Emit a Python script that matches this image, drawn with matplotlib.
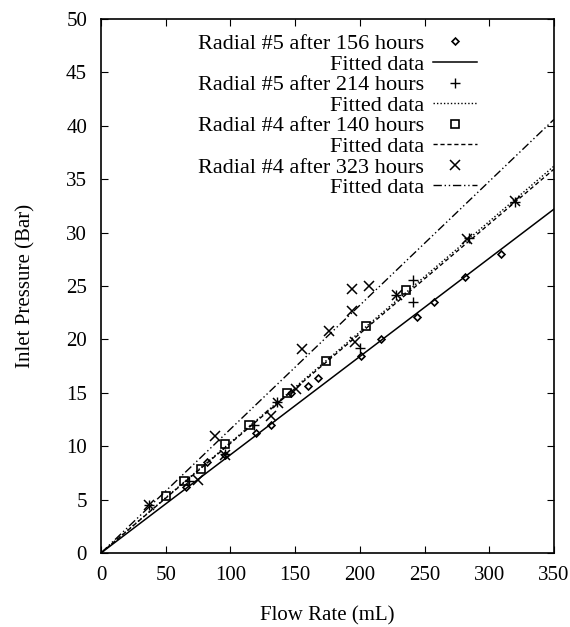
import matplotlib
matplotlib.use("Agg")
import matplotlib.pyplot as plt
import numpy as np

plt.rcParams['font.family'] = ['Liberation Serif', 'DejaVu Serif']

# Radial #5 after 156 hours (diamonds)
r5_156_x = [66, 82, 96, 120, 131, 147, 160, 168, 201, 216, 244, 257, 281, 309]
r5_156_y = [6.2, 8.5, 9.2, 11.2, 12.0, 15.0, 15.6, 16.4, 18.4, 20.0, 22.1, 23.5, 25.8, 28.0]
r5_156_slope = 0.0920

# Radial #5 after 214 hours (plus)
r5_214_x = [37, 68, 96, 118, 136, 200, 228, 241, 241, 284, 320]
r5_214_y = [4.5, 6.7, 9.3, 12.0, 14.1, 19.2, 24.2, 23.5, 25.6, 29.5, 32.9]
r5_214_slope = 0.1035

# Radial #4 after 140 hours (squares)
r4_140_x = [50, 64, 77, 96, 114, 144, 174, 205, 236]
r4_140_y = [5.3, 6.7, 7.9, 10.2, 12.0, 15.0, 18.0, 21.3, 24.6]
r4_140_slope = 0.1027

# Radial #4 after 323 hours (crosses)
r4_323_x = [37, 75, 88, 96, 131, 137, 151, 155, 176, 194, 194, 196, 207, 229, 283, 320]
r4_323_y = [4.5, 6.8, 11.0, 9.2, 12.8, 14.0, 15.4, 19.1, 20.8, 22.7, 24.7, 19.8, 25.0, 24.2, 29.4, 33.0]
r4_323_slope = 0.1160

xticks = [0, 50, 100, 150, 200, 250, 300, 350]
yticks = [0, 5, 10, 15, 20, 25, 30, 35, 40, 45, 50]

fig = plt.figure(figsize=(5.70, 6.27), dpi=100)
ax = fig.add_axes([101/570, 74/627, 453/570, 534/627])

xf = np.array([0, 350])
ax.plot(r5_156_x, r5_156_y, linestyle='none', marker='D', ms=3.5, mfc='none', mec='black', mew=1.2,
        label='Radial #5 after 156 hours')
ax.plot(xf, r5_156_slope * xf, color='black', lw=1.1, label='Fitted data')
ax.plot(r5_214_x, r5_214_y, linestyle='none', marker='+', ms=7, mec='black', mew=1.0,
        label='Radial #5 after 214 hours')
ax.plot(xf, r5_214_slope * xf, color='black', lw=1.0, linestyle=(0, (1, 1.5)), label='Fitted data')
ax.plot(r4_140_x, r4_140_y, linestyle='none', marker='s', ms=6, mfc='none', mec='black', mew=1.2,
        label='Radial #4 after 140 hours')
ax.plot(xf, r4_140_slope * xf, color='black', lw=1.0, linestyle=(0, (3, 2)), label='Fitted data')
ax.plot(r4_323_x, r4_323_y, linestyle='none', marker='x', ms=6.5, mec='black', mew=1.1,
        label='Radial #4 after 323 hours')
ax.plot(xf, r4_323_slope * xf, color='black', lw=1.0, linestyle=(0, (6, 2, 1, 2, 1, 2)), label='Fitted data')

ax.set_xlim(0, 350)
ax.set_ylim(0, 50)
ax.set_xticks(xticks)
ax.set_yticks(yticks)
ax.tick_params(direction='in', top=True, right=True, length=5, labelsize=15)
ax.tick_params(axis='x', pad=9)
ax.tick_params(axis='y', pad=10)
for s in ax.spines.values():
    s.set_linewidth(1.2)

ax.set_xlabel('Flow Rate (mL)', fontsize=15, labelpad=16)
ax.set_ylabel('Inlet Pressure (Bar)', fontsize=15, labelpad=22)

leg = ax.legend(loc='upper right', bbox_to_anchor=(0.845, 0.985), frameon=False, markerfirst=False,
                fontsize=16, handlelength=2.0, labelspacing=0.0, borderaxespad=0.0,
                borderpad=0.3, handletextpad=0.4)
for t in leg.get_texts():
    t.set_ha('right')

fig.savefig('out.png', dpi=100)
